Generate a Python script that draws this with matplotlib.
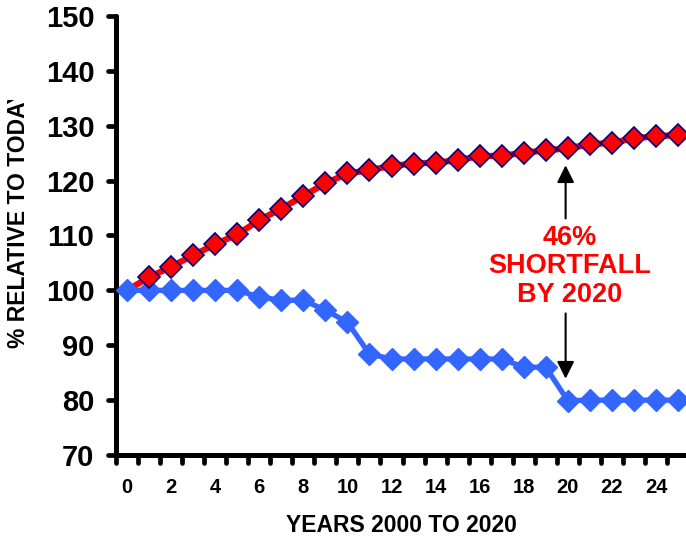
import matplotlib
matplotlib.use("Agg")
import matplotlib.pyplot as plt
from matplotlib.markers import MarkerStyle
from matplotlib.patches import Rectangle
import numpy as np

years = list(range(26))
demand = [100, 102.4, 104.3, 106.4, 108.4, 110.2, 112.8, 114.9, 117.2, 119.5,
          121.3, 121.9, 122.7, 123.1, 123.3, 123.7, 124.5, 124.5, 125.1, 125.5,
          125.9, 126.6, 126.9, 127.7, 128.1, 128.3]
supply = [100, 100, 100, 100, 100, 100, 98.8, 98.2, 98.2, 96.4,
          94.2, 88.4, 87.5, 87.5, 87.5, 87.5, 87.5, 87.5, 86.0, 86.0,
          79.9, 80, 80, 80, 80, 80]
y_ticks = [70, 80, 90, 100, 110, 120, 130, 140, 150]
x_labels = list(range(0, 25, 2))

W, H = 686, 540
fig = plt.figure(figsize=(W / 100, H / 100), dpi=100)
plt.rcParams['font.family'] = ['Liberation Sans', 'DejaVu Sans']

xmin, xmax = -0.5, 26
px_per_unit = 22.04
ax = fig.add_axes([116 / W, 85 / H, (xmax - xmin) * px_per_unit / W, 439 / H])
ax.set_xlim(xmin, xmax)
ax.set_ylim(70, 150)

red = '#FF0000'
blue = '#3366FF'
navy = '#000080'

ax.plot(years, demand, color=red, lw=4.5, zorder=2, solid_capstyle='round')
ax.plot(years, supply, color=blue, lw=3.8, marker='D', ms=11.5,
        markerfacecolor=blue, markeredgecolor=blue, zorder=3, clip_on=False)
ax.plot(years[1:], demand[1:], ls='none', marker='D', ms=11,
        markerfacecolor=red, markeredgecolor=navy, markeredgewidth=1.2,
        zorder=4, clip_on=False)

for s in ['top', 'right']:
    ax.spines[s].set_visible(False)
for s in ['left', 'bottom']:
    ax.spines[s].set_linewidth(3.6)
    ax.spines[s].set_capstyle('round')

ax.set_yticks(y_ticks)
ax.set_yticklabels([str(v) for v in y_ticks], fontsize=21, fontweight='bold')
ax.tick_params(axis='y', which='major', direction='out', length=6, width=3.4, pad=9.5)

ax.set_xticks(np.arange(-0.5, 26, 1.0))
ax.set_xticklabels([])
ax.set_xticks(x_labels, minor=True)
ax.set_xticklabels([str(v) for v in x_labels], minor=True, fontsize=14.5, fontweight='bold')
ax.tick_params(axis='x', which='major', direction='out', length=6, width=3.4)
ax.tick_params(axis='x', which='minor', length=0, pad=16.5)

for tl in ax.yaxis.get_majorticklines() + ax.xaxis.get_majorticklines():
    tl.set_marker(MarkerStyle(tl.get_marker(), capstyle='round'))

# annotation
ax.annotate('', xy=(19.9, 122.8), xytext=(19.9, 113.1),
            arrowprops=dict(arrowstyle='-|>', color='black', lw=1.5,
                            mutation_scale=26, shrinkA=0, shrinkB=0), zorder=5)
ax.annotate('', xy=(19.9, 83.9), xytext=(19.9, 95.8),
            arrowprops=dict(arrowstyle='-|>', color='black', lw=1.5,
                            mutation_scale=26, shrinkA=0, shrinkB=0), zorder=5)
ax.text(20.1, 104.4, '46%\nSHORTFALL\nBY 2020', color=red, fontsize=19.5,
        fontweight='bold', ha='center', va='center', linespacing=1.12, zorder=6)

fig.text(401 / W, 1 - 526 / H, 'YEARS 2000 TO 2020', fontsize=16.5,
         fontweight='bold', ha='center', va='center')
fig.text(19 / W, 1 - 348 / H, '% RELATIVE TO TODAY', fontsize=16.5,
         fontweight='bold', ha='center', va='bottom', rotation=90)
# the axis title box cuts the label off at the top, as in the original
fig.patches.append(Rectangle((0, 1 - 100 / H), 40 / W, 100 / H,
                             transform=fig.transFigure, facecolor='white',
                             edgecolor='none', zorder=10))

fig.savefig('out.png', dpi=100)
